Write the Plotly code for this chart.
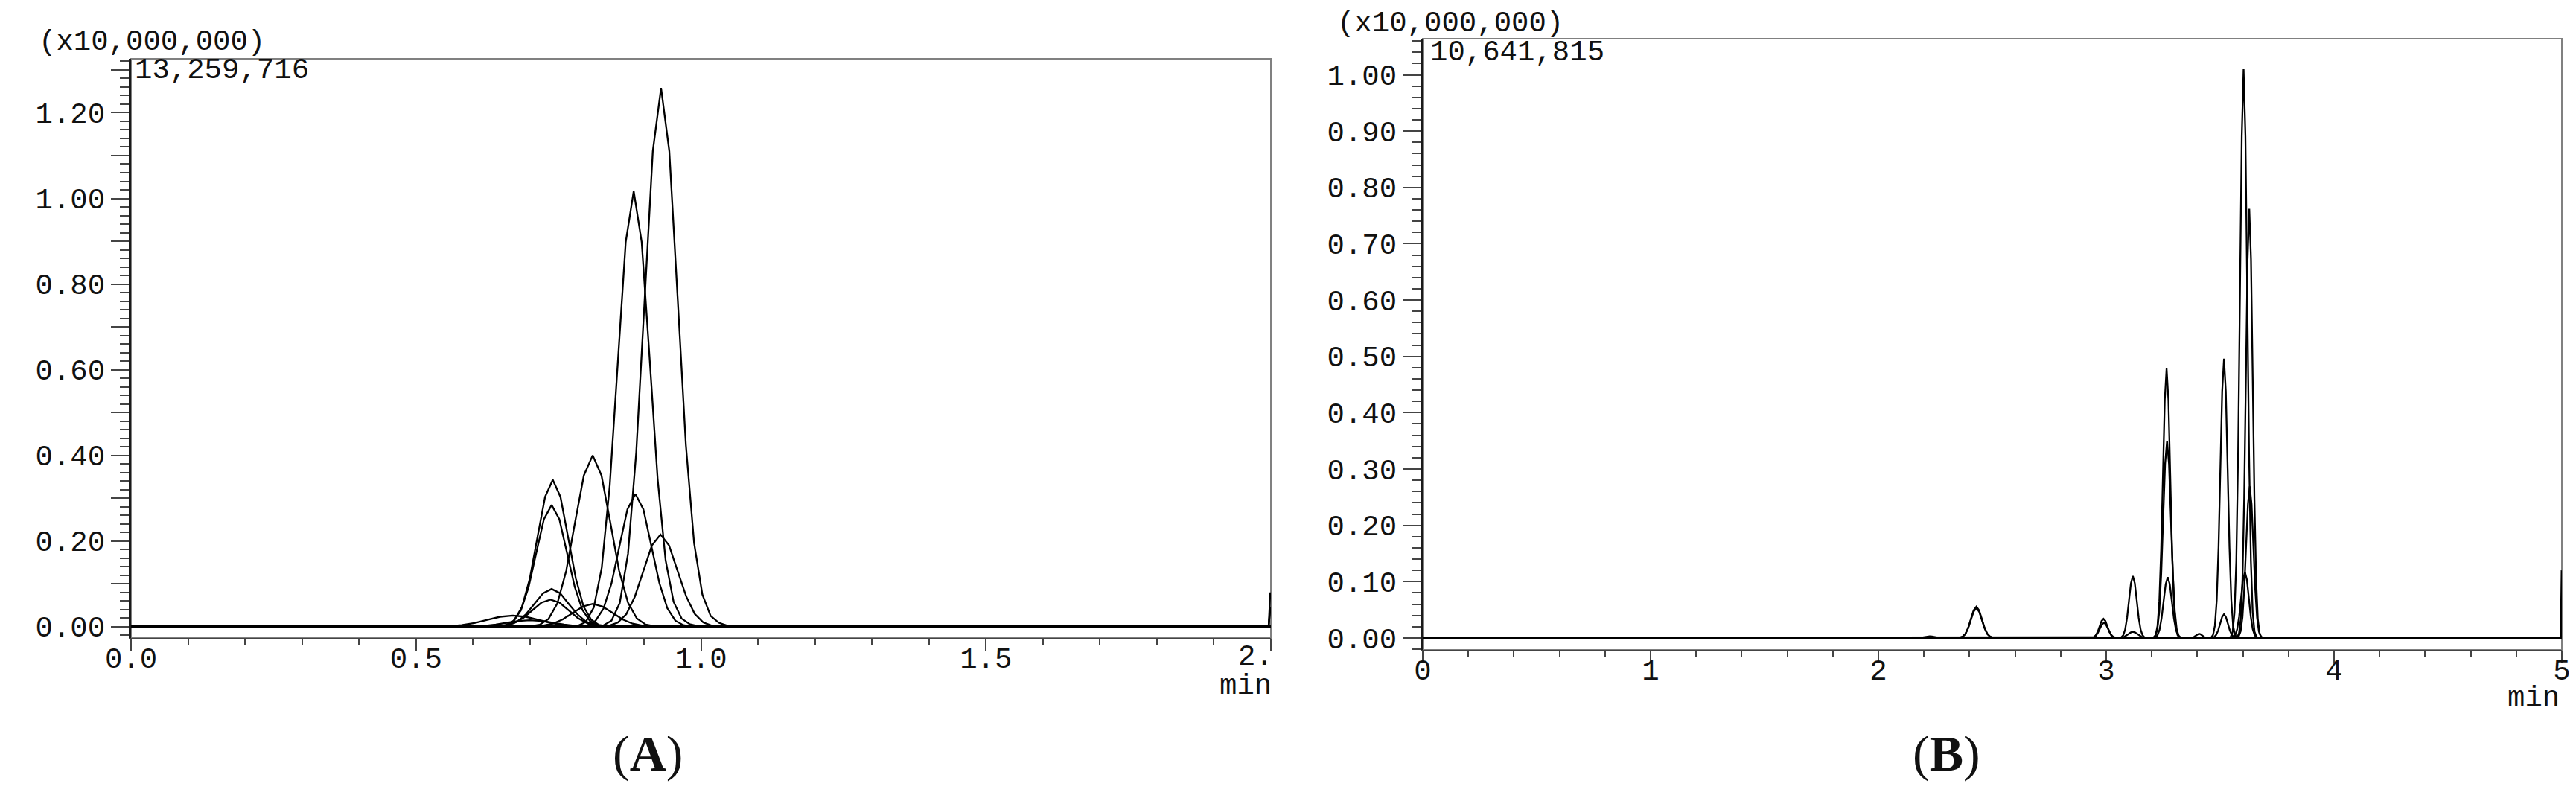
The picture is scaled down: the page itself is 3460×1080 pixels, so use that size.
import plotly.graph_objects as go

# ---------------- Panel A data (time in min, intensity in x10,000,000) ----------------
a01_t = [0.0, 0.814, 0.8285, 0.843, 0.8575, 0.872, 0.8865, 0.901, 0.9155, 0.930, 0.9445, 0.959, 0.9735, 0.988, 1.0025, 1.017, 1.0315, 1.046, 1.075, 1.996, 1.999]
a01_i = [0.0, 0.0004, 0.0028, 0.014, 0.055, 0.170, 0.408, 0.763, 1.110, 1.258, 1.110, 0.770, 0.425, 0.195, 0.075, 0.025, 0.009, 0.0025, 0.0005, 0.0, 0.045]

a02_t = [0.0, 0.770, 0.784, 0.798, 0.812, 0.826, 0.840, 0.854, 0.868, 0.882, 0.896, 0.910, 0.924, 0.938, 0.952, 0.966, 0.980, 0.994, 1.020, 1.996, 1.999]
a02_i = [0.0, 0.0003, 0.002, 0.011, 0.045, 0.138, 0.330, 0.617, 0.898, 1.017, 0.898, 0.625, 0.345, 0.155, 0.058, 0.019, 0.006, 0.0015, 0.0003, 0.0, 0.040]

a03_t = [0.0, 0.7015, 0.717, 0.7325, 0.748, 0.7635, 0.779, 0.7945, 0.810, 0.8255, 0.841, 0.8565, 0.872, 0.8875, 0.903, 0.9185, 1.996, 1.999]
a03_i = [0.0, 0.001, 0.0045, 0.018, 0.054, 0.130, 0.243, 0.353, 0.400, 0.353, 0.243, 0.130, 0.056, 0.019, 0.005, 0.001, 0.0, 0.080]

a04_t = [0.0, 0.6455, 0.659, 0.6725, 0.686, 0.6995, 0.713, 0.7265, 0.740, 0.7535, 0.767, 0.7805, 0.794, 0.8075, 0.821, 0.8345, 2.0]
a04_i = [0.0, 0.001, 0.004, 0.015, 0.046, 0.111, 0.208, 0.303, 0.343, 0.303, 0.208, 0.112, 0.047, 0.016, 0.004, 0.001, 0.0]

a05_t = [0.0, 0.6435, 0.657, 0.6705, 0.684, 0.6975, 0.711, 0.7245, 0.738, 0.7515, 0.765, 0.7785, 0.792, 0.8055, 0.819, 0.8325, 2.0]
a05_i = [0.0, 0.0006, 0.003, 0.0125, 0.038, 0.092, 0.172, 0.251, 0.284, 0.251, 0.172, 0.093, 0.039, 0.013, 0.0035, 0.0007, 0.0]

a06_t = [0.0, 0.787, 0.801, 0.815, 0.829, 0.843, 0.857, 0.871, 0.885, 0.899, 0.913, 0.927, 0.941, 0.955, 0.969, 0.983, 2.0]
a06_i = [0.0, 0.0007, 0.0034, 0.0136, 0.042, 0.101, 0.188, 0.274, 0.310, 0.274, 0.188, 0.102, 0.043, 0.014, 0.0036, 0.0008, 0.0]

a07_t = [0.0, 0.824, 0.839, 0.854, 0.869, 0.884, 0.899, 0.914, 0.929, 0.944, 0.959, 0.974, 0.989, 1.004, 1.019, 1.034, 2.0]
a07_i = [0.0, 0.0005, 0.0024, 0.0094, 0.029, 0.070, 0.130, 0.190, 0.215, 0.190, 0.130, 0.071, 0.030, 0.010, 0.0026, 0.0006, 0.0]

a08_t = [0.0, 0.648, 0.663, 0.678, 0.693, 0.708, 0.723, 0.738, 0.753, 0.768, 0.783, 0.798, 0.813, 0.828, 2.0]
a08_i = [0.0, 0.001, 0.004, 0.012, 0.029, 0.053, 0.078, 0.088, 0.078, 0.053, 0.029, 0.012, 0.004, 0.001, 0.0]

a09_t = [0.0, 0.640, 0.656, 0.672, 0.688, 0.704, 0.720, 0.736, 0.752, 0.768, 0.784, 0.800, 0.816, 0.832, 2.0]
a09_i = [0.0, 0.0007, 0.0028, 0.0085, 0.020, 0.038, 0.056, 0.063, 0.056, 0.038, 0.020, 0.0085, 0.0028, 0.0007, 0.0]

a10_t = [0.0, 0.705, 0.7225, 0.740, 0.7575, 0.775, 0.7925, 0.810, 0.8275, 0.845, 0.8625, 0.880, 0.8975, 0.915, 2.0]
a10_i = [0.0, 0.0006, 0.0023, 0.007, 0.017, 0.032, 0.047, 0.053, 0.047, 0.032, 0.017, 0.007, 0.0023, 0.0006, 0.0]

a11_t = [0.0, 0.535, 0.5575, 0.580, 0.6025, 0.625, 0.6475, 0.670, 0.6925, 0.715, 0.7375, 0.760, 0.7825, 0.805, 2.0]
a11_i = [0.0, 0.0003, 0.0011, 0.0035, 0.0084, 0.0158, 0.023, 0.026, 0.023, 0.0158, 0.0084, 0.0035, 0.0011, 0.0003, 0.0]

a12_t = [0.0, 0.580, 0.600, 0.620, 0.640, 0.660, 0.680, 0.700, 0.720, 0.740, 0.760, 0.780, 0.800, 0.820, 2.0]
a12_i = [0.0, 0.0002, 0.0007, 0.002, 0.0049, 0.0091, 0.0132, 0.015, 0.0132, 0.0091, 0.0049, 0.002, 0.0007, 0.0002, 0.0]

# ---------------- Panel B data ----------------
b01_t = [0.0, 2.185, 2.195, 2.205, 2.215, 2.225, 2.235, 2.245, 2.255, 2.265, 2.358, 2.370, 2.382, 2.394, 2.406, 2.418, 2.430, 2.442, 2.454, 2.466, 2.478, 2.490, 2.502, 5.0]
b01_i = [0.0, 0.0004, 0.001, 0.0018, 0.0027, 0.003, 0.0027, 0.0018, 0.001, 0.0004, 0.0006, 0.0024, 0.0075, 0.018, 0.0337, 0.049, 0.0555, 0.049, 0.0337, 0.018, 0.0075, 0.0024, 0.0006, 0.0]

b02_t = [0.0, 2.358, 2.370, 2.382, 2.394, 2.406, 2.418, 2.430, 2.442, 2.454, 2.466, 2.478, 2.490, 2.502, 5.0]
b02_i = [0.0, 0.0006, 0.0023, 0.0072, 0.0172, 0.0321, 0.0468, 0.053, 0.0468, 0.0321, 0.0172, 0.0072, 0.0023, 0.0006, 0.0]

b03_t = [0.0, 2.937, 2.9455, 2.954, 2.9625, 2.971, 2.9795, 2.988, 2.9965, 3.005, 3.0135, 3.022, 3.0305, 3.039, 5.0]
b03_i = [0.0, 0.0004, 0.0015, 0.0046, 0.011, 0.0206, 0.030, 0.034, 0.030, 0.0206, 0.011, 0.0046, 0.0015, 0.0004, 0.0]

b04_t = [0.0, 2.936, 2.945, 2.954, 2.963, 2.972, 2.981, 2.990, 2.999, 3.008, 3.017, 3.026, 3.035, 3.044, 5.0]
b04_i = [0.0, 0.0003, 0.0012, 0.0037, 0.0088, 0.0164, 0.0238, 0.027, 0.0238, 0.0164, 0.0088, 0.0037, 0.0012, 0.0003, 0.0]

b05_t = [0.0, 3.0575, 3.066, 3.0745, 3.083, 3.0915, 3.100, 3.1085, 3.117, 3.1255, 3.134, 3.1425, 3.151, 3.1595, 3.168, 3.1765, 5.0]
b05_i = [0.0, 0.0002, 0.0012, 0.0048, 0.0149, 0.0357, 0.0667, 0.097, 0.110, 0.097, 0.0667, 0.0357, 0.0149, 0.0048, 0.0012, 0.0002, 0.0]

b06_t = [0.0, 3.057, 3.067, 3.077, 3.087, 3.097, 3.107, 3.117, 3.127, 3.137, 3.147, 3.157, 3.167, 3.177,
         3.368, 3.3745, 3.381, 3.3875, 3.394, 3.4005, 3.407, 3.4135, 3.420, 3.4265, 3.433, 3.4395, 3.446, 5.0]
b06_i = [0.0, 0.0001, 0.0004, 0.0015, 0.0036, 0.0067, 0.0097, 0.011, 0.0097, 0.0067, 0.0036, 0.0015, 0.0004, 0.0001,
         0.0001, 0.0003, 0.001, 0.0025, 0.0046, 0.0067, 0.0076, 0.0067, 0.0046, 0.0025, 0.001, 0.0003, 0.0001, 0.0]

b07_t = [0.0, 3.201, 3.209, 3.217, 3.225, 3.233, 3.241, 3.249, 3.257, 3.265, 3.273, 3.281, 3.289, 3.297, 3.305, 3.313, 3.321, 3.329, 5.0]
b07_i = [0.0, 0.0001, 0.0011, 0.0053, 0.021, 0.0648, 0.1555, 0.2905, 0.4227, 0.479, 0.4227, 0.2905, 0.1555, 0.0648, 0.021, 0.0053, 0.0011, 0.0001, 0.0]

b08_t = [0.0, 3.2075, 3.216, 3.2245, 3.233, 3.2415, 3.250, 3.2585, 3.267, 3.2755, 3.284, 3.2925, 3.301, 3.3095, 3.318, 3.3265, 5.0]
b08_i = [0.0, 0.0008, 0.0039, 0.0154, 0.0474, 0.1136, 0.212, 0.309, 0.350, 0.309, 0.212, 0.1136, 0.0474, 0.0154, 0.0039, 0.0008, 0.0]

b09_t = [0.0, 3.207, 3.216, 3.225, 3.234, 3.243, 3.252, 3.261, 3.270, 3.279, 3.288, 3.297, 3.306, 3.315, 3.324, 3.333, 5.0]
b09_i = [0.0, 0.0002, 0.0012, 0.0047, 0.0146, 0.035, 0.0655, 0.0953, 0.108, 0.0953, 0.0655, 0.035, 0.0146, 0.0047, 0.0012, 0.0002, 0.0]

b10_t = [0.0, 3.453, 3.461, 3.469, 3.477, 3.485, 3.493, 3.501, 3.509, 3.517, 3.525, 3.533, 3.541, 3.549, 3.557, 3.565, 3.573, 3.581, 4.995, 4.999]
b10_i = [0.0, 0.0001, 0.0011, 0.0055, 0.0218, 0.0671, 0.161, 0.3008, 0.4377, 0.496, 0.4377, 0.3008, 0.161, 0.0671, 0.0218, 0.0055, 0.0011, 0.0001, 0.0, 0.120]

b11_t = [0.0, 3.466, 3.4745, 3.483, 3.4915, 3.500, 3.5085, 3.517, 3.5255, 3.534, 3.5425, 3.551, 3.5595, 3.568, 5.0]
b11_i = [0.0, 0.0005, 0.0018, 0.0057, 0.0136, 0.0255, 0.037, 0.042, 0.037, 0.0255, 0.0136, 0.0057, 0.0018, 0.0005, 0.0]

b12_t = [0.0, 3.539, 3.547, 3.555, 3.563, 3.571, 3.579, 3.587, 3.595, 3.603, 3.611, 3.619, 3.627, 3.635, 3.643, 3.651, 3.659, 3.667, 4.995, 4.999]
b12_i = [0.0, 0.0003, 0.0022, 0.0112, 0.0443, 0.1367, 0.328, 0.6126, 0.8913, 1.010, 0.8913, 0.6126, 0.328, 0.1367, 0.0443, 0.0112, 0.0022, 0.0003, 0.0, 0.035]

b13_t = [0.0, 3.5495, 3.558, 3.5665, 3.575, 3.5835, 3.592, 3.6005, 3.609, 3.6175, 3.626, 3.6345, 3.643, 3.6515, 3.660, 3.6685, 5.0]
b13_i = [0.0, 0.0003, 0.0013, 0.0051, 0.0158, 0.038, 0.071, 0.1033, 0.117, 0.1033, 0.071, 0.038, 0.0158, 0.0051, 0.0013, 0.0003, 0.0]

b14_t = [0.0, 3.568, 3.5755, 3.583, 3.5905, 3.598, 3.6055, 3.613, 3.6205, 3.628, 3.6355, 3.643, 3.6505, 3.658, 3.6655, 3.673, 3.6805, 3.688, 4.995, 4.999]
b14_i = [0.0, 0.0002, 0.0017, 0.0085, 0.0335, 0.1031, 0.2474, 0.4622, 0.6725, 0.762, 0.6725, 0.4622, 0.2474, 0.1031, 0.0335, 0.0085, 0.0017, 0.0002, 0.0, 0.065]

b15_t = [0.0, 3.574, 3.582, 3.590, 3.598, 3.606, 3.614, 3.622, 3.630, 3.638, 3.646, 3.654, 3.662, 3.670, 3.678, 3.686, 4.995, 4.999]
b15_i = [0.0, 0.0006, 0.003, 0.0118, 0.0364, 0.0873, 0.1631, 0.2374, 0.269, 0.2374, 0.1631, 0.0873, 0.0364, 0.0118, 0.003, 0.0006, 0.0, 0.035]

# ---------------- Axis / label data ----------------
a_ymax = 1.3259716
b_ymax = 1.0641815
a_max_label = "13,259,716"
b_max_label = "10,641,815"
scale_label = "(x10,000,000)"
x_unit = "min"

a_xtick_vals = [0.0, 0.5, 1.0, 1.5, 2.0]
a_xtick_text = ["0.0", "0.5", "1.0", "1.5", "2."]
b_xtick_vals = [0, 1, 2, 3, 4, 5]
b_xtick_text = ["0", "1", "2", "3", "4", "5"]

a_ytick_vals = [0.0, 0.1, 0.2, 0.3, 0.4, 0.5, 0.6, 0.7, 0.8, 0.9, 1.0, 1.1, 1.2, 1.3]
a_ytick_text = ["0.00", "", "0.20", "", "0.40", "", "0.60", "", "0.80", "", "1.00", "", "1.20", ""]
b_ytick_vals = [0.0, 0.1, 0.2, 0.3, 0.4, 0.5, 0.6, 0.7, 0.8, 0.9, 1.0]
b_ytick_text = ["0.00", "0.10", "0.20", "0.30", "0.40", "0.50", "0.60", "0.70", "0.80", "0.90", "1.00"]

panel_a = [(a01_t, a01_i), (a02_t, a02_i), (a03_t, a03_i), (a04_t, a04_i), (a05_t, a05_i), (a06_t, a06_i),
           (a07_t, a07_i), (a08_t, a08_i), (a09_t, a09_i), (a10_t, a10_i), (a11_t, a11_i), (a12_t, a12_i)]
panel_b = [(b01_t, b01_i), (b02_t, b02_i), (b03_t, b03_i), (b04_t, b04_i), (b05_t, b05_i), (b06_t, b06_i),
           (b07_t, b07_i), (b08_t, b08_i), (b09_t, b09_i), (b10_t, b10_i), (b11_t, b11_i), (b12_t, b12_i),
           (b13_t, b13_i), (b14_t, b14_i), (b15_t, b15_i)]

W, H = 3460, 1080
MONO = "Liberation Mono"
TXT = "#111111"
FS = 39
LW = 2.3

fig = go.Figure()
for t, i in panel_a:
    fig.add_trace(go.Scatter(x=t, y=i, mode="lines", line=dict(color="#000000", width=LW),
                             xaxis="x", yaxis="y", showlegend=False, hoverinfo="skip"))
for t, i in panel_b:
    fig.add_trace(go.Scatter(x=t, y=i, mode="lines", line=dict(color="#000000", width=LW),
                             xaxis="x2", yaxis="y2", showlegend=False, hoverinfo="skip"))


def xax(domain, rng, vals, text, anchor, minor_dtick, standoff):
    return dict(domain=domain, range=rng, anchor=anchor, tickmode="array", tickvals=vals, ticktext=text,
                ticks="outside", ticklen=16, tickwidth=2, tickcolor="#444444", ticklabelstandoff=standoff,
                minor=dict(tickmode="linear", tick0=0, dtick=minor_dtick, ticks="outside", ticklen=8,
                           tickwidth=2, tickcolor="#444444", showgrid=False),
                showline=True, linecolor="#444444", linewidth=2, showgrid=False, zeroline=False,
                automargin=False, tickfont=dict(family=MONO, size=FS, color=TXT), fixedrange=True)


def yax(domain, rng, vals, text, anchor):
    return dict(domain=domain, range=rng, anchor=anchor, tickmode="array", tickvals=vals, ticktext=text,
                ticks="outside", ticklen=24, tickwidth=2, tickcolor="#444444",
                minor=dict(tickmode="linear", tick0=0, dtick=0.02, ticks="outside", ticklen=12,
                           tickwidth=2, tickcolor="#444444", showgrid=False),
                showline=True, linecolor="#1a1a1a", linewidth=3, showgrid=False, zeroline=False,
                automargin=False, tickfont=dict(family=MONO, size=FS, color=TXT), fixedrange=True)


a_xdom = [168 / W, 1699 / W]
a_ydom = [1 - 849 / H, 1 - 71 / H]
b_xdom = [1903 / W, 3433 / W]
b_ydom = [1 - 865 / H, 1 - 44 / H]

# last A label is drawn as a right-aligned annotation, like the reference
xa = xax(a_xdom, [0, 2.0], a_xtick_vals, a_xtick_text[:-1] + [""], "y", 0.1, -25)
xb = xax(b_xdom, [0, 5.0], b_xtick_vals, b_xtick_text, "y2", 0.2, -25)
ya = yax(a_ydom, [-0.02 * a_ymax, a_ymax], a_ytick_vals, a_ytick_text, "x")
yb = yax(b_ydom, [-0.02 * b_ymax, b_ymax], b_ytick_vals, b_ytick_text, "x2")

shapes = [
    dict(type="rect", xref="x domain", yref="y domain", x0=0, x1=1, y0=0, y1=1,
         line=dict(color="#808080", width=2), layer="below"),
    dict(type="rect", xref="x2 domain", yref="y2 domain", x0=0, x1=1, y0=0, y1=1,
         line=dict(color="#808080", width=2), layer="below"),
]


def ann(text, px, py, xanchor="left", size=FS, family=MONO):
    return dict(text=text, xref="paper", yref="paper", x=px / W, y=1 - py / H, xanchor=xanchor,
                yanchor="middle", showarrow=False, font=dict(family=family, size=size, color=TXT))


annotations = [
    ann(scale_label, 42, 49),
    ann(a_max_label, 171, 87),
    ann(scale_label, 1786, 24),
    ann(b_max_label, 1911, 63),
    ann(a_xtick_text[-1], 1704, 875, xanchor="right"),
    ann(x_unit, 1702, 914, xanchor="right"),
    ann(x_unit, 3432, 930, xanchor="right"),
    ann("(<b>A</b>)", 862, 1004, xanchor="center", size=68, family="Liberation Serif"),
    ann("(<b>B</b>)", 2606, 1004, xanchor="center", size=68, family="Liberation Serif"),
]

fig.update_layout(width=W, height=H, autosize=False,
                  margin=dict(l=0, r=0, t=0, b=0, pad=0, autoexpand=False),
                  paper_bgcolor="white", plot_bgcolor="white",
                  xaxis=xa, yaxis=ya, xaxis2=xb, yaxis2=yb,
                  shapes=shapes, annotations=annotations, showlegend=False)

fig.write_html("out.html")
